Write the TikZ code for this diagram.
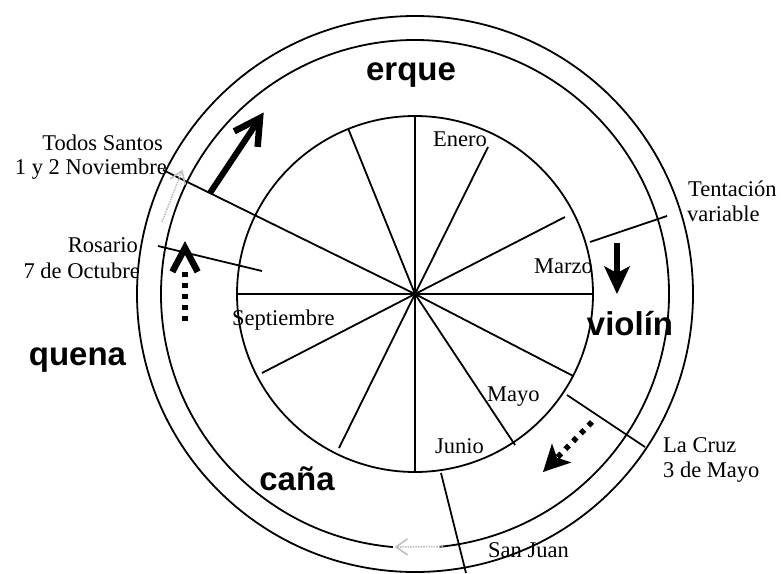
\documentclass[tikz,border=0pt]{standalone}
\usepackage{fontspec}
\setmainfont{Liberation Serif}
\setsansfont{Liberation Sans}
\usetikzlibrary{calc}
\begin{document}
\begin{tikzpicture}[x=1pt,y=-1pt,
  ringline/.style={line width=1.8pt},
  radline/.style={line width=1.8pt},
  lab/.style={font=\fontsize{22.5}{25}\selectfont, inner sep=0pt},
  instr/.style={font=\fontsize{33}{36}\selectfont\sffamily\bfseries, inner sep=0pt},
  solidshaft/.style={line width=6pt, line cap=butt},
  dotshaft/.style={line width=5.5pt, line cap=butt, dash pattern=on 5pt off 6pt},
  chevron/.style={line width=6.5pt, line cap=butt, line join=miter},
  faint/.style={draw=gray!50, line width=1.6pt, densely dotted},
  faintchev/.style={draw=gray!50, line width=1.6pt, line join=miter}
]
\useasboundingbox (0,0) rectangle (781,573);
\coordinate (C) at (415,294);
% circles (middle one interrupted by the faint arrow at the bottom)
\draw[ringline] (C) circle (178);
\draw[ringline] ($(C)+(95:254)$) arc[start angle=95, end angle=444.5, radius=254];
\draw[ringline] (C) circle (278);
% radial lines (angles are clockwise on screen because y points down)
\draw[radline] (C) -- ++(-90:178);
\draw[radline] (C) -- (488,147);
\draw[radline] (C) -- (565,217);
\draw[radline] (C) -- ++(0:178);
\draw[radline] (C) -- ++(27.4:178);
\draw[radline] (C) -- (515,445);
\draw[radline] (C) -- ++(90:179);
\draw[radline] (C) -- (339,448);
\draw[radline] (C) -- (262,373);
\draw[radline] (C) -- ++(180:178);
\draw[radline] (C) -- (163,170);
\draw[radline] (C) -- ++(-112:178);
% feast lines
\coordinate (ro1) at (158,246); \coordinate (ro2) at (262,271);
\draw[radline] (ro1) -- (ro2);
\coordinate (te1) at (590,242); \coordinate (te2) at (667,216);
\draw[radline] (te1) -- (te2);
\coordinate (lc1) at (567,395); \coordinate (lc2) at (645,447);
\draw[radline] (lc1) -- (lc2);
\coordinate (sj1) at (441,473); \coordinate (sj2) at (466,573);
\draw[radline] (sj1) -- (sj2);
% arrow 1: solid, open chevron head
\coordinate (a1s) at (210,193); \coordinate (a1e) at (260,118);
\draw[solidshaft] (a1s) -- ($(a1e)!4pt!(a1s)$);
\draw[chevron] ($(a1e)!29pt!29:(a1s)$) -- (a1e) -- ($(a1e)!29pt!-29:(a1s)$);
% arrow 2: dotted, open chevron head
\coordinate (a2s) at (185,321); \coordinate (a2e) at (185,248);
\draw[dotshaft] (a2s) -- ($(a2e)!20pt!(a2s)$);
\draw[chevron] ($(a2e)!27pt!28:(a2s)$) -- (a2e) -- ($(a2e)!27pt!-28:(a2s)$);
% arrow 3: solid, filled head
\coordinate (a3s) at (617,243); \coordinate (a3e) at (617,294);
\draw[solidshaft] (a3s) -- ($(a3e)!15pt!(a3s)$);
\fill ($(a3e)!31pt!25:(a3s)$) -- (a3e) -- ($(a3e)!31pt!-25:(a3s)$) -- ($(a3e)!21pt!(a3s)$) -- cycle;
% arrow 4: dotted, filled head
\coordinate (a4s) at (592,422); \coordinate (a4e) at (543,472);
\draw[dotshaft] (a4s) -- ($(a4e)!20pt!(a4s)$);
\fill ($(a4e)!30pt!27:(a4s)$) -- (a4e) -- ($(a4e)!30pt!-27:(a4s)$) -- ($(a4e)!20pt!(a4s)$) -- cycle;
% faint gray arrows
\coordinate (g1s) at (443,546.5); \coordinate (g1e) at (396,547);
\draw[faint] (g1s) -- (g1e);
\draw[faintchev] ($(g1e)!14pt!35:(g1s)$) -- (g1e) -- ($(g1e)!14pt!-35:(g1s)$);
\coordinate (g2s) at (162,222); \coordinate (g2e) at (182,171);
\draw[faint] (g2s) -- (g2e);
\draw[faintchev] ($(g2e)!14pt!35:(g2s)$) -- (g2e) -- ($(g2e)!14pt!-35:(g2s)$);
% instrument labels
\node[instr,anchor=base] (erque) at (411,80.5) {erque};
\node[instr,anchor=base] (violin) at (630,335) {violín};
\node[instr,anchor=base] (quena) at (77.5,365) {quena};
\node[instr,anchor=base] (cana) at (297,490) {caña};
% feast labels
\node[lab,anchor=base east] (ts1) at (163,150) {Todos Santos};
\node[lab,anchor=base east] (ts2) at (167,174) {1 y 2 Noviembre};
\node[lab,anchor=base east] (ros1) at (138,252) {Rosario};
\node[lab,anchor=base east] (ros2) at (140,278) {7 de Octubre};
\node[lab,anchor=base west] (ten1) at (688,196) {Tentación};
\node[lab,anchor=base west] (ten2) at (687,221) {variable};
\node[lab,anchor=base west] (cruz1) at (663,452) {La Cruz};
\node[lab,anchor=base west] (cruz2) at (663,477) {3 de Mayo};
\node[lab,anchor=base west] (sanjuan) at (488,557) {San Juan};
% months
\node[lab,anchor=base west] (enero) at (433,146) {Enero};
\node[lab,anchor=base east] (marzo) at (593,273) {Marzo};
\node[lab,anchor=base west] (sept) at (232,325) {Septiembre};
\node[lab,anchor=base west] (mayo) at (487,401) {Mayo};
\node[lab,anchor=base west] (junio) at (435,453) {Junio};
\end{tikzpicture}
\end{document}
